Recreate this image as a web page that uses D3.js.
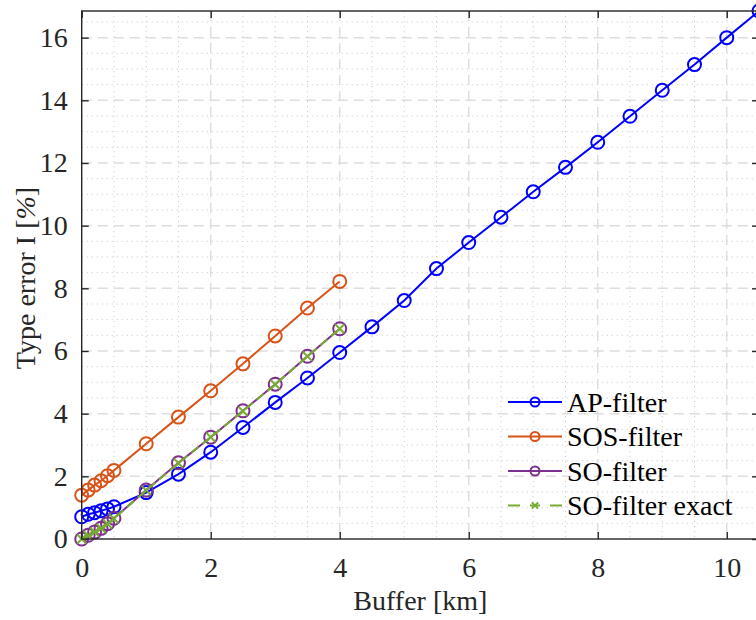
<!DOCTYPE html>
<html>
<head>
<meta charset="utf-8">
<script src="https://cdn.jsdelivr.net/npm/d3@7"></script>
<style>
  html, body { margin: 0; padding: 0; background: #fff; overflow: hidden; }
  svg { display: block; }
  text { font-family: "Liberation Serif", "DejaVu Serif", serif; }
</style>
</head>
<body>
<svg id="chart" width="756" height="620"></svg>
<script>
// ---- data ----
const xAP = [0, 0.1, 0.2, 0.3, 0.4, 0.5, 1, 1.5, 2, 2.5, 3, 3.5, 4, 4.5, 5, 5.5, 6, 6.5, 7, 7.5, 8, 8.5, 9, 9.5, 10, 10.5];
const apFilter = [0.71, 0.79, 0.84, 0.90, 0.96, 1.03, 1.48, 2.07, 2.77, 3.56, 4.36, 5.14, 5.95, 6.77, 7.61, 8.63, 9.46, 10.27, 11.08, 11.86, 12.66, 13.49, 14.32, 15.14, 16.0, 16.85];
const xSO = [0, 0.1, 0.2, 0.3, 0.4, 0.5, 1, 1.5, 2, 2.5, 3, 3.5, 4];
const sosFilter = [1.40, 1.56, 1.72, 1.86, 2.02, 2.19, 3.04, 3.89, 4.73, 5.59, 6.48, 7.37, 8.22];
const soFilter = [0.0, 0.12, 0.22, 0.34, 0.49, 0.66, 1.56, 2.43, 3.25, 4.09, 4.94, 5.83, 6.71];
const soFilterExact = [0.0, 0.11, 0.22, 0.34, 0.48, 0.65, 1.55, 2.42, 3.25, 4.08, 4.93, 5.83, 6.71];
const seriesNames = ["AP-filter", "SOS-filter", "SO-filter", "SO-filter exact"];
const xTicks = [0, 2, 4, 6, 8, 10];
const yTicks = [0, 2, 4, 6, 8, 10, 12, 14, 16];
const xLabel = "Buffer [km]";
const yLabel = "Type error I [%]";

// ---- layout ----
const svg = d3.select("#chart");
const L = 81.7, R = 759, T = 11, B = 539;
const x = d3.scaleLinear().domain([0, 10.5]).range([L, R]);
const y = d3.scaleLinear().domain([0, 16.85]).range([B, T]);
const axisColor = "#262626";
const serif = "'Liberation Serif', 'DejaVu Serif', serif";

// grid
const g = svg.append("g");
const minorX = d3.range(0.5, 10.5, 0.5).filter(v => v % 2 !== 0);
const minorY = d3.range(0.5, 16.85, 0.5).filter(v => v % 2 !== 0);
g.selectAll(".mx").data(minorX).enter().append("line")
  .attr("x1", d => x(d)).attr("x2", d => x(d)).attr("y1", T).attr("y2", B)
  .attr("stroke", "#cfcfcf").attr("stroke-width", 1).attr("stroke-dasharray", "1.2,3.8");
g.selectAll(".my").data(minorY).enter().append("line")
  .attr("y1", d => y(d)).attr("y2", d => y(d)).attr("x1", L).attr("x2", R)
  .attr("stroke", "#cfcfcf").attr("stroke-width", 1).attr("stroke-dasharray", "1.2,3.8");
g.selectAll(".gx").data(xTicks.filter(d => d > 0)).enter().append("line")
  .attr("x1", d => x(d)).attr("x2", d => x(d)).attr("y1", T).attr("y2", B)
  .attr("stroke", "#dedede").attr("stroke-width", 1.5).attr("stroke-dasharray", "10,6");
g.selectAll(".gy").data(yTicks.filter(d => d > 0)).enter().append("line")
  .attr("y1", d => y(d)).attr("y2", d => y(d)).attr("x1", L).attr("x2", R)
  .attr("stroke", "#dedede").attr("stroke-width", 1.5).attr("stroke-dasharray", "10,6");

// axes (ticks inward on all four sides)
const tick = 7;
const ax = [
  svg.append("g").attr("transform", `translate(0,${B})`).call(d3.axisBottom(x).tickValues(xTicks).tickSizeInner(-tick).tickSizeOuter(0).tickPadding(26)),
  svg.append("g").attr("transform", `translate(0,${T})`).call(d3.axisTop(x).tickValues(xTicks).tickSizeInner(-tick).tickSizeOuter(0).tickFormat("")),
  svg.append("g").attr("transform", `translate(${L},0)`).call(d3.axisLeft(y).tickValues(yTicks).tickSizeInner(-tick).tickSizeOuter(0).tickPadding(14)),
  svg.append("g").attr("transform", `translate(${R},0)`).call(d3.axisRight(y).tickValues(yTicks).tickSizeInner(-tick).tickSizeOuter(0).tickFormat(""))
];
ax.forEach(a => {
  a.attr("font-family", serif);
  a.select(".domain").remove();
  a.selectAll("line").attr("stroke", axisColor).attr("stroke-width", 1.4);
  a.selectAll("text").attr("fill", axisColor).style("font-size", "28px").style("font-family", serif);
});
ax[0].selectAll("text").attr("dy", "0").attr("y", 38);

// series
const seriesDefs = [
  { xs: xAP, ys: apFilter, color: "#0000ff", marker: "o", dash: null },
  { xs: xSO, ys: sosFilter, color: "#d95319", marker: "o", dash: null },
  { xs: xSO, ys: soFilter, color: "#7e2f8e", marker: "o", dash: null },
  { xs: xSO, ys: soFilterExact, color: "#77ac30", marker: "x", dash: "9,5" }
];
const line = d3.line().x(d => x(d[0])).y(d => y(d[1]));
function drawMarker(sel, cx, cy, s, r) {
  if (s.marker === "o") {
    sel.append("circle").attr("cx", cx).attr("cy", cy).attr("r", r)
      .attr("fill", "none").attr("stroke", s.color).attr("stroke-width", 2);
  } else {
    const k = r * 0.7;
    sel.append("path").attr("d", `M${cx - k},${cy - k}L${cx + k},${cy + k}M${cx - k},${cy + k}L${cx + k},${cy - k}`)
      .attr("stroke", s.color).attr("stroke-width", 2).attr("fill", "none");
  }
}
seriesDefs.forEach(s => {
  const pts = s.xs.map((v, i) => [v, s.ys[i]]);
  const sg = svg.append("g");
  sg.append("path").attr("d", line(pts)).attr("fill", "none").attr("stroke", s.color)
    .attr("stroke-width", 2).attr("stroke-dasharray", s.dash);
  pts.forEach(p => drawMarker(sg, x(p[0]), y(p[1]), s, 6.5));
});

// box
svg.append("rect").attr("x", L).attr("y", T).attr("width", R - L).attr("height", B - T)
  .attr("fill", "none").attr("stroke", axisColor).attr("stroke-width", 1.4);

// labels
svg.append("text").attr("x", (L + R) / 2).attr("y", 610).attr("text-anchor", "middle")
  .attr("fill", axisColor).style("font-size", "28px").style("font-family", serif).text(xLabel);
const yl = svg.append("text").attr("transform", `translate(35,278) rotate(-90)`)
  .attr("text-anchor", "middle").attr("fill", axisColor).style("font-size", "28px").style("font-family", serif);
yl.append("tspan").text("Type error I [");
yl.append("tspan").style("font-style", "italic").text("%");
yl.append("tspan").text("]");

// legend
const lg = svg.append("g");
const rowY = [402, 436.5, 471, 505.5];
seriesDefs.forEach((s, i) => {
  const cy = rowY[i];
  lg.append("line").attr("x1", 508).attr("x2", 562).attr("y1", cy).attr("y2", cy)
    .attr("stroke", s.color).attr("stroke-width", 2).attr("stroke-dasharray", s.dash ? "12,10,10,10,12" : null);
  drawMarker(lg, 535, cy, s, 4.5);
  lg.append("text").attr("x", 567).attr("y", cy + 9.5).attr("fill", "#000")
    .style("font-size", "28px").style("font-family", serif).text(seriesNames[i]);
});
</script>
</body>
</html>
